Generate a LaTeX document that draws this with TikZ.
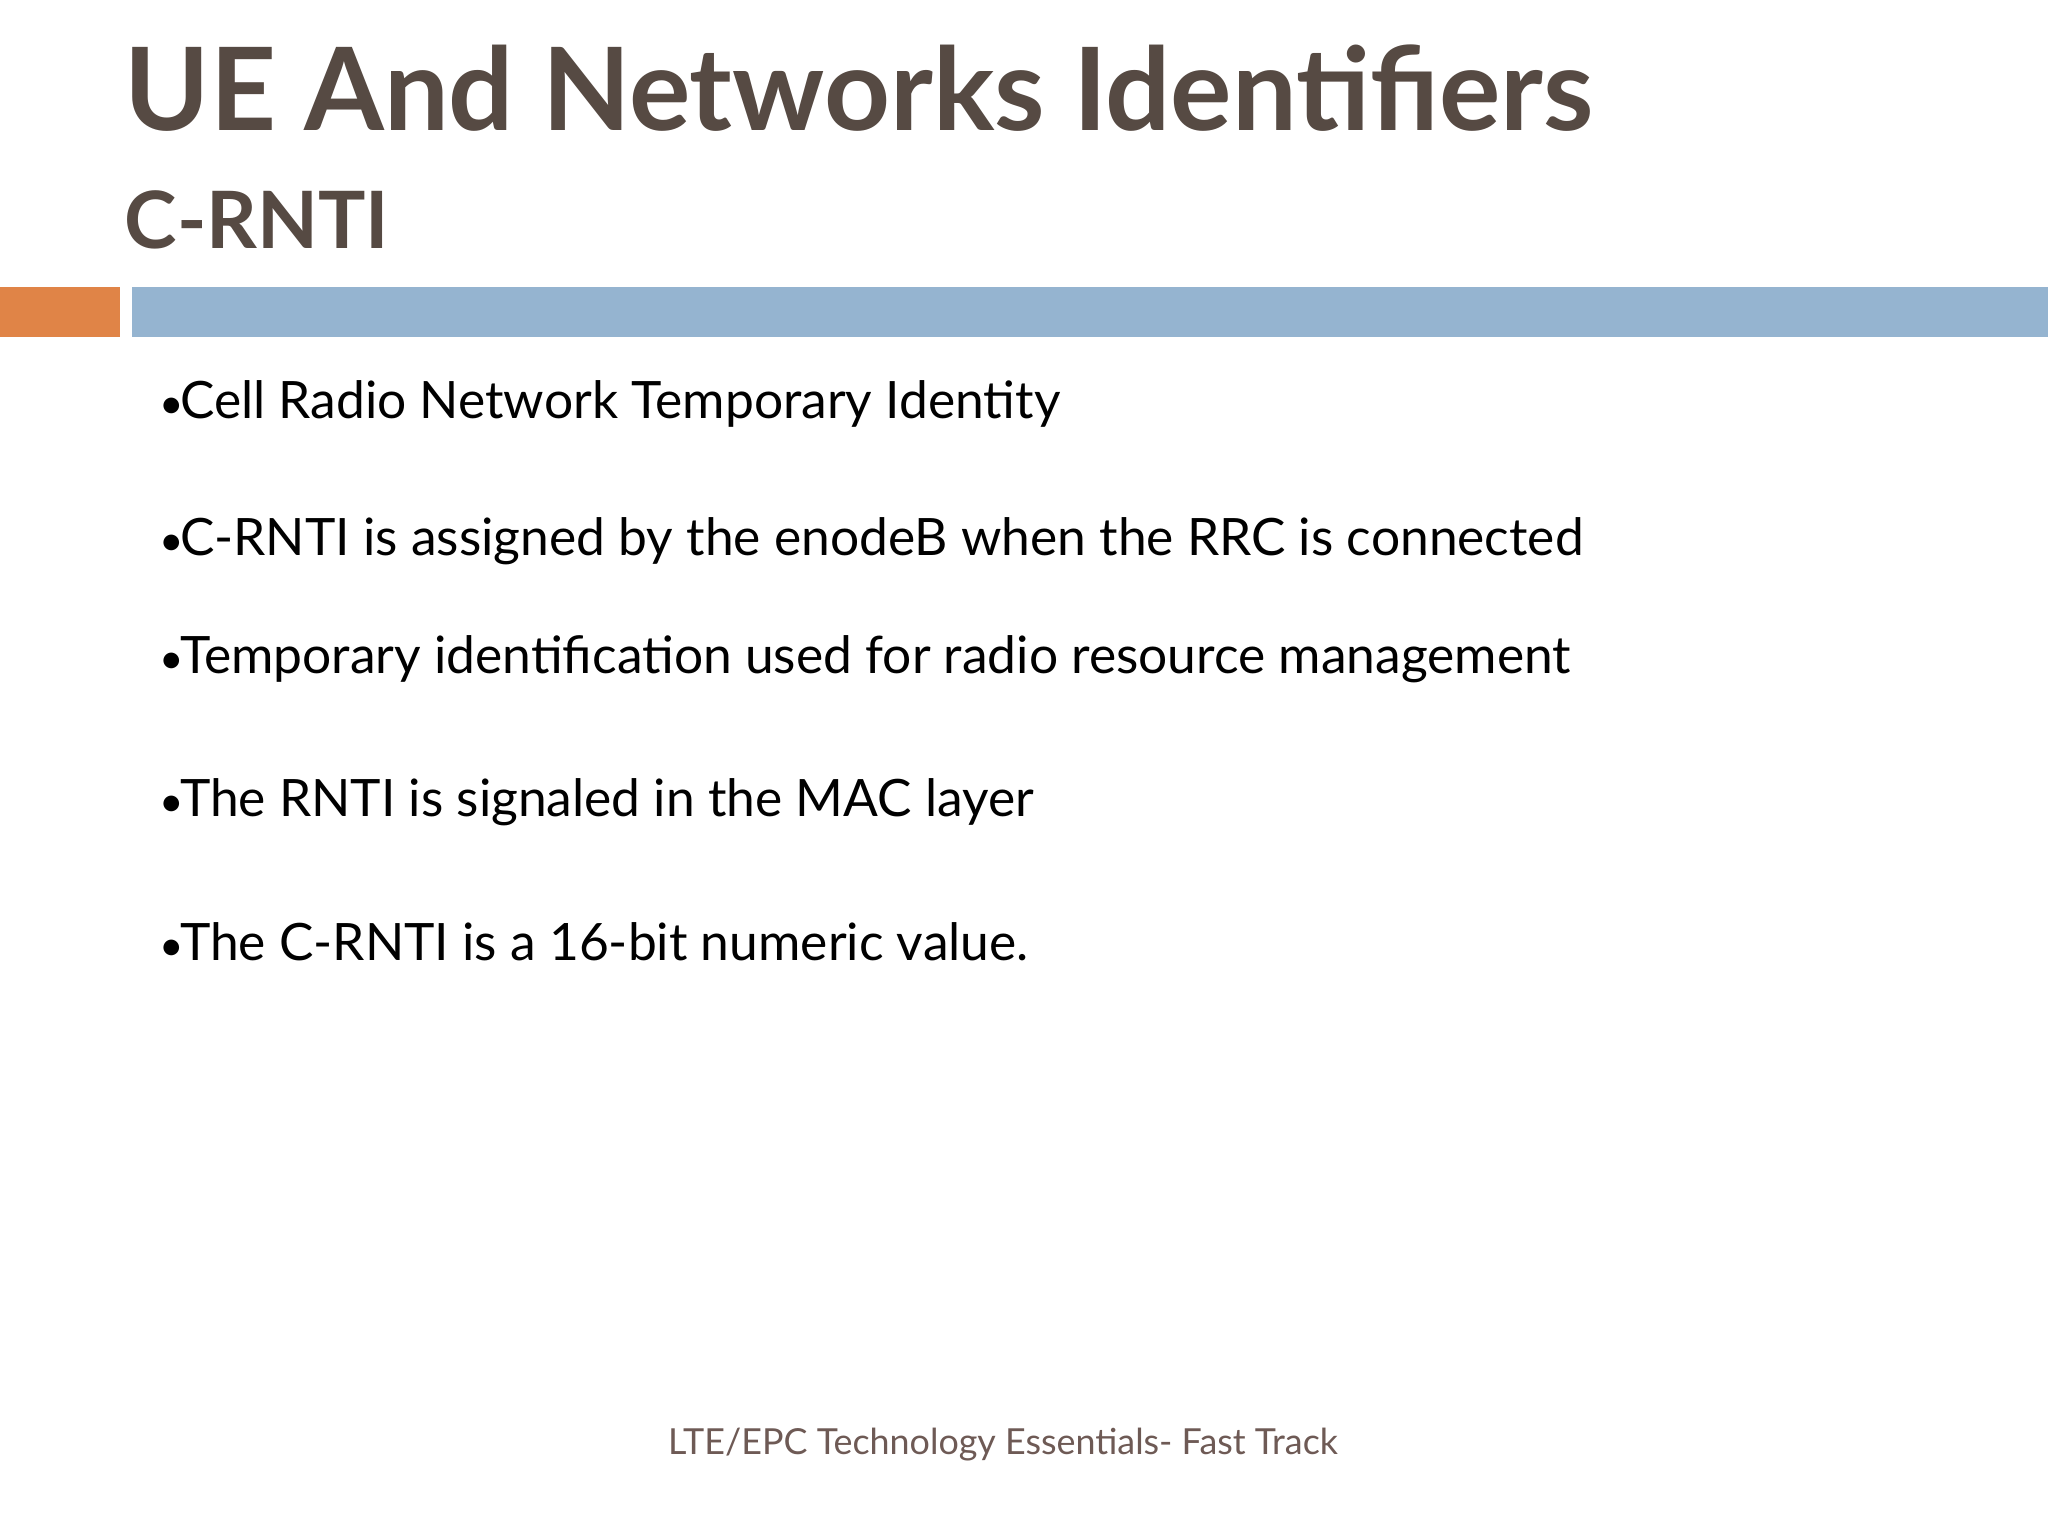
\documentclass[tikz,border=0pt]{standalone}
\usepackage{fontspec}
\setmainfont{Lato}
\definecolor{titbrown}{HTML}{564A43}
\definecolor{footbrown}{HTML}{6E5A55}
\definecolor{barorange}{HTML}{E08447}
\definecolor{barblue}{HTML}{95B4D0}
\newcommand{\bt}{{\fontsize{12pt}{14pt}\selectfont •}\kern-0.08em}
\begin{document}
\begin{tikzpicture}[x=0.01cm,y=-0.01cm,
  bul/.style={anchor=base west,inner sep=0pt,font=\fontsize{14.65pt}{17pt}\selectfont,text=black}]
\useasboundingbox (0,0) rectangle (2048,1536);
\fill[white] (0,0) rectangle (2048,1536);
\node[anchor=base west,inner sep=0pt,text=titbrown,font=\fontsize{32.7pt}{40pt}\selectfont\bfseries] (t) at (124,130) {UE And Networks Identifiers};
\node[anchor=base west,inner sep=0pt,text=titbrown,font=\fontsize{22.5pt}{28pt}\selectfont\bfseries] (s) at (124,248) {C-RNTI};
\fill[barorange] (0,287) rectangle (120,337);
\fill[barblue] (132,287) rectangle (2048,337);
\node[bul] (b1) at (159,418) {\bt Cell Radio Network Temporary Identity};
\node[bul] (b2) at (159,555) {\bt C-RNTI is assigned by the enodeB when the RRC is connected};
\node[bul] (b3) at (159,673) {\bt Temporary identification used for radio resource management};
\node[bul] (b4) at (159,816) {\bt The RNTI is signaled in the MAC layer};
\node[bul] (b5) at (159,960) {\bt The C-RNTI is a 16-bit numeric value.};
\node[anchor=base,inner sep=0pt,text=footbrown,font=\fontsize{10.2pt}{12pt}\selectfont] (f) at (1003,1454) {LTE/EPC Technology Essentials- Fast Track};
\end{tikzpicture}
\end{document}
